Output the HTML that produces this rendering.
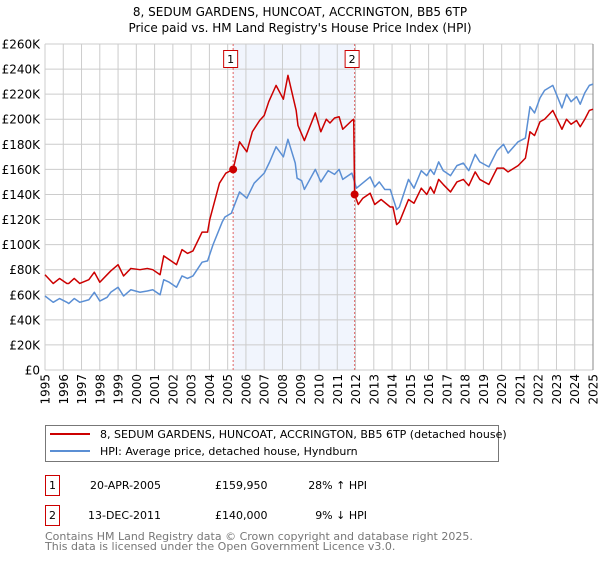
<!DOCTYPE html>
<html><head><meta charset="utf-8"><style>
body{margin:0;background:#fff;font-family:"DejaVu Sans","Liberation Sans",sans-serif}
svg text{font-family:"DejaVu Sans","Liberation Sans",sans-serif}
</style></head><body>
<svg id="c" width="600" height="560" viewBox="0 0 600 560">
<text x="300" y="16" text-anchor="middle" font-size="12" fill="#000">8, SEDUM GARDENS, HUNCOAT, ACCRINGTON, BB5 6TP</text>
<text x="300" y="32" text-anchor="middle" font-size="12" fill="#000">Price paid vs. HM Land Registry's House Price Index (HPI)</text>
<g id="plot"></g>
<g>
<rect x="45.5" y="425.5" width="453" height="36" fill="#fff" stroke="#777"/>
<line x1="50" y1="434" x2="90" y2="434" stroke="#cc0000" stroke-width="2"/>
<text x="100" y="438" font-size="11">8, SEDUM GARDENS, HUNCOAT, ACCRINGTON, BB5 6TP (detached house)</text>
<line x1="50" y1="451" x2="90" y2="451" stroke="#5b8fd4" stroke-width="2"/>
<text x="100" y="455" font-size="11">HPI: Average price, detached house, Hyndburn</text>
</g>
<g font-size="11">
<rect x="45.5" y="475.5" width="14" height="20" fill="#fff" stroke="#cc0000"/>
<text x="52.5" y="489" text-anchor="middle">1</text>
<text x="90" y="489">20-APR-2005</text>
<text x="215" y="489">£159,950</text>
<text x="367" y="489" text-anchor="end">28% ↑ HPI</text>
</g>
<g font-size="11">
<rect x="45.5" y="505.5" width="14" height="20" fill="#fff" stroke="#cc0000"/>
<text x="52.5" y="519" text-anchor="middle">2</text>
<text x="88" y="519">13-DEC-2011</text>
<text x="215" y="519">£140,000</text>
<text x="367" y="519" text-anchor="end">9% ↓ HPI</text>
</g>
<text x="45" y="540" font-size="11" fill="#777">Contains HM Land Registry data © Crown copyright and database right 2025.</text>
<text x="45" y="550" font-size="11" fill="#777">This data is licensed under the Open Government Licence v3.0.</text>
</svg>
<script>
const hpiYears=[1995.0,1995.45,1995.8,1996.2,1996.3,1996.6,1996.9,1997.4,1997.7,1998.0,1998.4,1998.6,1999.0,1999.3,1999.7,2000.2,2000.6,2000.9,2001.3,2001.5,2001.8,2002.2,2002.5,2002.8,2003.1,2003.6,2003.9,2004.2,2004.7,2004.85,2005.2,2005.65,2006.05,2006.45,2007.0,2007.3,2007.65,2008.05,2008.3,2008.7,2008.8,2009.05,2009.2,2009.8,2010.1,2010.5,2010.85,2011.1,2011.3,2011.8,2012.05,2012.8,2013.05,2013.3,2013.6,2013.9,2014.25,2014.4,2014.9,2015.2,2015.6,2015.9,2016.1,2016.3,2016.55,2016.8,2017.2,2017.55,2017.9,2018.2,2018.55,2018.8,2019.3,2019.75,2020.1,2020.35,2020.9,2021.3,2021.55,2021.8,2022.1,2022.35,2022.8,2023.3,2023.55,2023.8,2024.1,2024.3,2024.55,2024.8,2025.0];
const hpiValues=[59,54,57,54,53,57,54,56,62,55,58,62,66,59,64,62,63,64,60,72,70,66,75,73,75,86,87,100,118,122,125,142,137,149,157,166,178,170,184,165,153,151,144,160,150,159,156,160,152,157,145,154,146,150,144,144,128,130,152,145,159,155,160,156,166,159,155,163,165,159,172,166,162,175,180,173,182,185,210,205,217,223,227,209,220,214,218,212,221,227,228];
const priceYears=[1995.0,1995.45,1995.8,1996.2,1996.3,1996.6,1996.9,1997.4,1997.7,1998.0,1998.4,1998.6,1999.0,1999.3,1999.7,2000.2,2000.6,2000.9,2001.3,2001.5,2001.8,2002.2,2002.5,2002.8,2003.1,2003.6,2003.9,2004.02,2004.55,2004.9,2005.3,2005.65,2006.05,2006.35,2006.75,2007.0,2007.25,2007.65,2008.05,2008.3,2008.75,2008.85,2009.2,2009.8,2010.1,2010.4,2010.6,2010.85,2011.1,2011.3,2011.8,2011.9,2011.95,2012.15,2012.4,2012.8,2013.05,2013.4,2013.9,2014.05,2014.25,2014.4,2014.9,2015.2,2015.6,2015.9,2016.1,2016.3,2016.55,2016.8,2017.2,2017.55,2017.9,2018.2,2018.55,2018.8,2019.3,2019.75,2020.1,2020.35,2020.9,2021.3,2021.55,2021.8,2022.1,2022.35,2022.8,2023.3,2023.55,2023.8,2024.1,2024.3,2024.55,2024.8,2025.0];
const priceValues=[76,69,73,69,69,73,69,72,78,70,76,79,84,75,81,80,81,80,76,91,88,84,96,93,95,110,110,120,149,157,160,182,174,190,199,203,214,227,216,235,207,195,183,205,190,200,197,201,202,192,199,200,140,132,137,141,132,136,130,130,116,118,136,133,145,140,146,141,152,148,142,150,152,147,158,152,148,161,161,158,163,169,190,187,198,200,207,192,200,196,199,194,200,207,208];
const saleYears=[2005.3,2011.95];
const saleValues=[159.95,140];
const saleLabels=["1","2"];
const yTicks=[0,20,40,60,80,100,120,140,160,180,200,220,240,260];
const yTickLabels=["£0","£20K","£40K","£60K","£80K","£100K","£120K","£140K","£160K","£180K","£200K","£220K","£240K","£260K"];
const xTicks=[1995,1996,1997,1998,1999,2000,2001,2002,2003,2004,2005,2006,2007,2008,2009,2010,2011,2012,2013,2014,2015,2016,2017,2018,2019,2020,2021,2022,2023,2024,2025];

const L=45,R=593,T=44,B=370;
const xs=y=>L+(y-1995)/30*(R-L);
const ys=v=>B-v/260*(B-T);
const NS="http://www.w3.org/2000/svg";
const plot=document.getElementById('plot');
function mk(tag,attrs,parent){const e=document.createElementNS(NS,tag);for(const k in attrs)e.setAttribute(k,attrs[k]);(parent||plot).appendChild(e);return e;}

const shade=mk('rect',{x:xs(saleYears[0]),y:T,width:xs(saleYears[1])-xs(saleYears[0]),height:B-T,fill:'#eef3fd',opacity:0.8});



const grid=mk('g',{});


yTicks.forEach((v,i)=>{
  mk('line',{x1:L,x2:R,y1:ys(v),y2:ys(v),stroke:'#cccccc','stroke-width':1},grid);
  const t=mk('text',{x:L-5,y:ys(v)+4.5,'text-anchor':'end','font-size':'12',fill:'#000'});
  t.textContent=yTickLabels[i];
  
  
});
xTicks.forEach(y=>{
  mk('line',{x1:xs(y),x2:xs(y),y1:T,y2:B,stroke:'#cccccc','stroke-width':1},grid);
  const t=mk('text',{transform:`translate(${xs(y)+4.5},${B+4}) rotate(-90)`,'text-anchor':'end','font-size':'12',fill:'#000'});
  t.textContent=String(y);
  
  
});
const rax=mk('line',{x1:R,x2:R,y1:T,y2:B,stroke:'#888','stroke-width':1});



saleYears.forEach((y,i)=>{
  const l=mk('line',{x1:xs(y),x2:xs(y),y1:T,y2:B,stroke:'#e06666','stroke-width':1,'stroke-dasharray':'2,2'});
  
  
  const bx=mk('rect',{x:xs(y)-9.5,y:50.5,width:14,height:17,fill:'#fff',stroke:'#cc0000'});
  
  
  const t=mk('text',{x:xs(y)-2.5,y:63,'text-anchor':'middle','font-size':'11'});
  t.textContent=saleLabels[i];
  
  
});

const hp=mk('polyline',{points:hpiYears.map((y,i)=>xs(y)+','+ys(hpiValues[i])).join(' '),fill:'none',stroke:'#5b8fd4','stroke-width':1.5,'stroke-linejoin':'round'});


const pp=mk('polyline',{points:priceYears.map((y,i)=>xs(y)+','+ys(priceValues[i])).join(' '),fill:'none',stroke:'#cc0000','stroke-width':1.5,'stroke-linejoin':'round'});


saleYears.forEach((y,i)=>{
  const c=mk('circle',{cx:xs(y),cy:ys(saleValues[i]),r:4,fill:'#cc0000'});
  
  
});
</script>
</body></html>
